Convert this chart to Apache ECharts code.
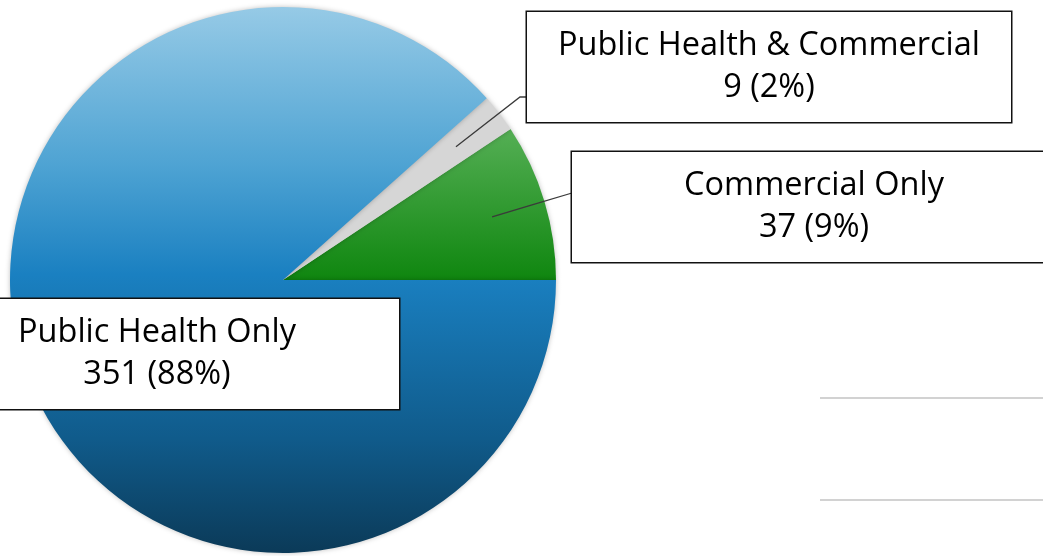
<!DOCTYPE html>
<html>
<head>
<meta charset="utf-8">
<script src="https://cdn.jsdelivr.net/npm/echarts@6/dist/echarts.min.js"></script>
<style>html,body{margin:0;padding:0;background:#fff;}#c{width:1043px;height:556px;}</style>
</head>
<body>
<div id="c"></div>
<script>
// Data (order: counterclockwise from 3 o'clock)
var categories = ['Commercial Only', 'Public Health & Commercial', 'Public Health Only'];
var counts = [37, 9, 351];

var CX = 283, CY = 280, R = 273;
// label box placement (layout only)
var BOX_W = 484;
var boxLeft = [572, 527, -85];
var boxTop = [152, 12, 299];
var lineEnd = [[572, 193], [527, 97], null];
var lineBend = [null, [520, 97], null];

var total = counts.reduce(function (a, b) { return a + b; }, 0);
// mid angles (counterclockwise from 3 o'clock), derived from data
var midAngles = [];
(function () {
  var acc = 0;
  counts.forEach(function (v) {
    var a0 = acc / total * 2 * Math.PI;
    acc += v;
    var a1 = acc / total * 2 * Math.PI;
    midAngles.push((a0 + a1) / 2);
  });
})();

var blueGrad = new echarts.graphic.LinearGradient(0, 0, 0, 1, [
  { offset: 0, color: '#96cae6' },
  { offset: 0.29, color: '#4ea3d3' },
  { offset: 0.49, color: '#1a80c1' },
  { offset: 0.79, color: '#105b8b' },
  { offset: 1, color: '#0b3a58' }
]);
var greenGrad = new echarts.graphic.LinearGradient(0, 0, 0, 1, [
  { offset: 0, color: '#55af55' },
  { offset: 1, color: '#0f860f' }
]);
var fills = [greenGrad, '#d6d6d6', blueGrad];

var pieData = categories.map(function (name, i) {
  return { name: name, value: counts[i], itemStyle: { color: fills[i] } };
});
var labelData = categories.map(function (name, i) {
  return { name: name, value: counts[i], labelLine: { show: i !== 2 } };
});

var chart = echarts.init(document.getElementById('c'), null, { renderer: 'canvas' });
chart.setOption({
  animation: false,
  backgroundColor: '#ffffff',
  graphic: [
    { type: 'line', shape: { x1: 820, y1: 398, x2: 1043, y2: 398 }, style: { stroke: '#d2d2d2', lineWidth: 2 } },
    { type: 'line', shape: { x1: 820, y1: 500, x2: 1043, y2: 500 }, style: { stroke: '#d2d2d2', lineWidth: 2 } }
  ],
  series: [{
    type: 'pie',
    z: 2,
    center: [CX, CY],
    radius: R,
    startAngle: 0,
    clockwise: false,
    silent: true,
    itemStyle: {
      shadowBlur: 5,
      shadowColor: 'rgba(0,0,0,0.25)'
    },
    label: { show: false },
    labelLine: { show: false },
    data: pieData
  }, {
    type: 'pie',
    z: 3,
    center: [CX, CY],
    radius: R,
    startAngle: 0,
    clockwise: false,
    silent: true,
    avoidLabelOverlap: false,
    itemStyle: { color: 'rgba(0,0,0,0)' },
    label: {
      show: true,
      position: 'outside',
      formatter: function (p) {
        return p.name + '\n' + p.value + ' (' + Math.round(p.value / total * 100) + '%)';
      },
      fontFamily: 'Open Sans',
      fontSize: 32.5,
      color: '#000',
      lineHeight: 42,
      align: 'center',
      width: BOX_W,
      padding: [13, 0, 13, 0],
      backgroundColor: '#ffffff',
      borderColor: '#111',
      borderWidth: 1.5
    },
    labelLine: {
      show: true,
      lineStyle: { color: '#3a3a3a', width: 1.3 }
    },
    labelLayout: function (params) {
      var i = params.dataIndex;
      var out = {
        x: boxLeft[i] + BOX_W / 2,
        y: boxTop[i],
        align: 'center',
        verticalAlign: 'top'
      };
      if (lineEnd[i]) {
        var a = midAngles[i];
        var s = [CX + Math.cos(a) * R * 0.8, CY - Math.sin(a) * R * 0.8];
        var mid = lineBend[i] || [(s[0] + lineEnd[i][0]) / 2, (s[1] + lineEnd[i][1]) / 2];
        out.labelLinePoints = [s, mid, lineEnd[i]];
      }
      return out;
    },
    data: labelData
  }]
});
</script>
</body>
</html>
